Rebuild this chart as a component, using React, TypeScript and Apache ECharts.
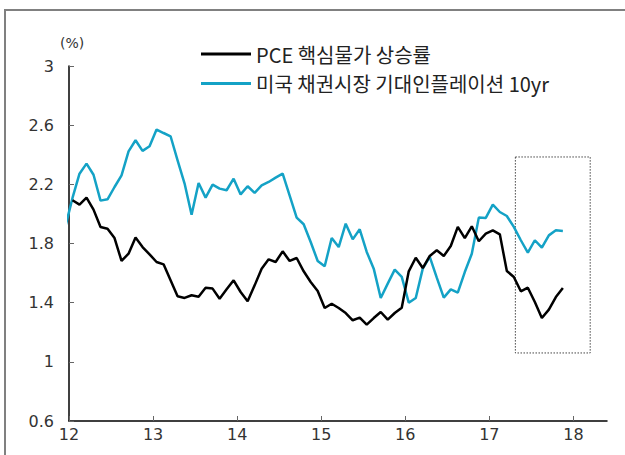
import React, { useEffect, useRef } from "react";
import * as echarts from "echarts";

const seriesNames = ["PCE 핵심물가 상승률", "미국 채권시장 기대인플레이션 10yr"];

// Monthly values, Jan 2012 .. Nov 2017
const pceCore = [
  2.092, 2.063, 2.11, 2.029, 1.912, 1.9, 1.837, 1.682, 1.731, 1.84,
  1.776, 1.727, 1.675, 1.659, 1.551, 1.443, 1.432, 1.45, 1.44, 1.501,
  1.495, 1.427, 1.49, 1.551, 1.472, 1.409, 1.517, 1.63, 1.693, 1.675,
  1.747, 1.682, 1.702, 1.612, 1.54, 1.479, 1.364, 1.393, 1.364, 1.33,
  1.281, 1.299, 1.251, 1.296, 1.337, 1.285, 1.33, 1.366, 1.612, 1.704,
  1.634, 1.716, 1.754, 1.716, 1.783, 1.912, 1.836, 1.916, 1.815, 1.867,
  1.889, 1.862, 1.614, 1.574, 1.477, 1.501, 1.404, 1.296, 1.353, 1.438, 1.499,
];

// Dec 2011 (lead-in, clipped by the axis) then Jan 2012 .. Nov 2017
const breakevenLeadIn = 1.918;
const breakeven10y = [
  2.108, 2.272, 2.34, 2.265, 2.09, 2.099, 2.182, 2.261, 2.423, 2.498,
  2.426, 2.457, 2.57, 2.547, 2.525, 2.362, 2.205, 1.995, 2.209, 2.11,
  2.198, 2.171, 2.16, 2.238, 2.132, 2.187, 2.142, 2.193, 2.216, 2.245,
  2.272, 2.123, 1.975, 1.93, 1.81, 1.682, 1.646, 1.837, 1.776, 1.934,
  1.828, 1.896, 1.743, 1.63, 1.432, 1.529, 1.623, 1.574, 1.4, 1.432,
  1.63, 1.709, 1.569, 1.434, 1.49, 1.468, 1.607, 1.731, 1.975, 1.973,
  2.063, 2.013, 1.986, 1.912, 1.822, 1.738, 1.822, 1.772, 1.855, 1.889, 1.885,
];

const startYear = 12;
const xTicks = [12, 13, 14, 15, 16, 17, 18];
const yTicks = [0.6, 1, 1.4, 1.8, 2.2, 2.6, 3];
const highlightX = [17.31, 18.2];
const highlightY = [1.06, 2.385];

const monthX = (i: number) => startYear + (i + 0.5) / 12;

export default function App() {
  const ref = useRef<HTMLDivElement>(null);
  useEffect(() => {
    if (!ref.current) return;
    const chart = echarts.init(ref.current, undefined, { renderer: "svg" });
    const pceData = pceCore.map((v, i) => [monthX(i), v]);
    const beData = [[monthX(-1), breakevenLeadIn], ...breakeven10y.map((v, i) => [monthX(i), v])];
    const labelFont = "'DejaVu Sans', sans-serif";
    chart.setOption({
      animation: false,
      backgroundColor: "#ffffff",
      grid: { left: 69, right: 18, top: 66, bottom: 34 },
      legend: {
        data: seriesNames,
        orient: "vertical",
        left: 201,
        top: 43,
        padding: 0,
        itemGap: 7.5,
        itemWidth: 50,
        itemHeight: 3,
        icon: "rect",
        textStyle: {
          fontSize: 20,
          lineHeight: 22,
          color: "#222",
          fontFamily: "'Noto Sans CJK KR', sans-serif",
        },
      },
      xAxis: {
        type: "value",
        min: 12,
        max: 18.4,
        splitLine: { show: false },
        axisLine: { lineStyle: { color: "#000", width: 1.5 } },
        axisTick: {
          inside: true,
          length: 5,
          customValues: xTicks,
          lineStyle: { color: "#666", width: 1 },
        },
        axisLabel: {
          customValues: xTicks,
          margin: 5,
          fontSize: 16,
          color: "#333",
          fontFamily: labelFont,
        },
      },
      yAxis: {
        type: "value",
        min: 0.6,
        max: 3,
        splitLine: { show: false },
        axisLine: { show: true, lineStyle: { color: "#000", width: 1.5 } },
        axisTick: {
          show: true,
          inside: true,
          length: 5,
          customValues: yTicks,
          lineStyle: { color: "#666", width: 1 },
        },
        axisLabel: {
          customValues: yTicks,
          margin: 15,
          fontSize: 16,
          color: "#333",
          fontFamily: labelFont,
        },
      },
      graphic: [
        {
          type: "rect",
          shape: { x: 5, y: 10, width: 800, height: 700 },
          style: { fill: "none", stroke: "#808080", lineWidth: 2 },
          silent: true,
        },
        {
          type: "text",
          left: 60,
          top: 36,
          style: { text: "(%)", fontSize: 14, fill: "#333", fontFamily: labelFont },
        },
      ],
      series: [
        {
          name: seriesNames[1],
          type: "line",
          data: beData,
          showSymbol: false,
          symbol: "none",
          clip: true,
          lineStyle: { color: "#14A2C6", width: 2.5 },
          itemStyle: { color: "#14A2C6" },
          z: 2,
          markArea: {
            silent: true,
            itemStyle: {
              color: "rgba(0,0,0,0)",
              borderColor: "#444",
              borderWidth: 1,
              borderType: [1.5, 1.5],
            },
            data: [[{ coord: [highlightX[0], highlightY[1]] }, { coord: [highlightX[1], highlightY[0]] }]],
          },
        },
        {
          name: seriesNames[0],
          type: "line",
          data: pceData,
          showSymbol: false,
          symbol: "none",
          clip: true,
          lineStyle: { color: "#000000", width: 2.5 },
          itemStyle: { color: "#000000" },
          z: 3,
        },
      ],
    });
    return () => chart.dispose();
  }, []);
  return (
    <div
      ref={ref}
      style={{ position: "fixed", left: 0, top: 0, width: 625, height: 455, background: "#fff" }}
    />
  );
}
